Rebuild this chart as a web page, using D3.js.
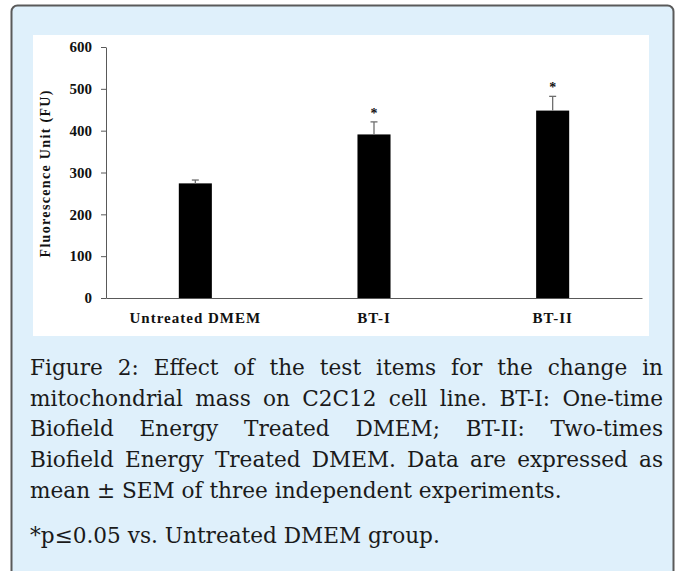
<!DOCTYPE html>
<html lang="en">
<head>
<meta charset="UTF-8">
<title>Mitochondrial mass</title>
<script src="https://cdn.jsdelivr.net/npm/d3@7"></script>
<style>
  body { margin: 0; background: #fff; }
  svg { display: block; }
</style>
</head>
<body>
<svg width="675" height="571"></svg>
<script>
// data
const categories = ["Untreated DMEM", "BT-I", "BT-II"];
const means = [274, 391, 448];
const sem = [8, 30, 34];
const significant = [false, true, true];
const yTicks = [0, 100, 200, 300, 400, 500, 600];

const captionLines = [
  "Figure 2: Effect of the test items for the change in",
  "mitochondrial mass on C2C12 cell line. BT-I: One-time",
  "Biofield Energy Treated DMEM; BT-II: Two-times",
  "Biofield Energy Treated DMEM. Data are expressed as",
  "mean \u00b1 SEM of three independent experiments.",
  "*p\u22640.05 vs. Untreated DMEM group."
];
const justified = [true, true, true, true, false, false];

let svg = d3.select("svg");
const serif = "'Liberation Serif', 'Times New Roman', serif";
const capFont = "'DejaVu Serif', serif";

// panel box
svg.append("rect")
  .attr("x", 11.5).attr("y", 5.5)
  .attr("width", 662).attr("height", 620)
  .attr("rx", 6)
  .style("fill", "#dff0fb")
  .style("stroke", "#5a5a5a")
  .style("stroke-width", 2);

svg.append("rect")
  .attr("x", 33).attr("y", 35)
  .attr("width", 616).attr("height", 301)
  .style("fill", "#fff");

let x = d3.scaleBand().domain(categories).range([106, 642]).padding(0);
let y = d3.scaleLinear().domain([0, 600]).range([298, 47]);
let barW = x.bandwidth() * 0.185;

let data = categories.map((c, i) => ({cat: c, mean: means[i], sem: sem[i], sig: significant[i]}));

// bars
svg.append("g").selectAll("rect")
  .data(data).join("rect")
  .attr("x", d => x(d.cat) + x.bandwidth() / 2 - barW / 2)
  .attr("y", d => y(d.mean))
  .attr("width", barW)
  .attr("height", d => y(0) - y(d.mean))
  .style("fill", "#000");

// error bars (upper only)
let eb = svg.append("g").style("stroke", "#6e6e6e").style("stroke-width", 1.3);
eb.selectAll("line.v")
  .data(data).join("line").attr("class", "v")
  .attr("x1", d => x(d.cat) + x.bandwidth() / 2)
  .attr("x2", d => x(d.cat) + x.bandwidth() / 2)
  .attr("y1", d => y(d.mean))
  .attr("y2", d => y(d.mean + d.sem));
eb.selectAll("line.c")
  .data(data).join("line").attr("class", "c")
  .attr("x1", d => x(d.cat) + x.bandwidth() / 2 - 3.5)
  .attr("x2", d => x(d.cat) + x.bandwidth() / 2 + 3.5)
  .attr("y1", d => y(d.mean + d.sem))
  .attr("y2", d => y(d.mean + d.sem));

// significance stars
svg.append("g").selectAll("text")
  .data(data.filter(d => d.sig)).join("text")
  .attr("x", d => x(d.cat) + x.bandwidth() / 2)
  .attr("y", d => y(d.mean + d.sem) - 4)
  .attr("text-anchor", "middle")
  .style("font-family", serif)
  .style("font-weight", "bold")
  .style("font-size", "14px")
  .style("fill", "#111")
  .text("*");

// axes
let yAxis = svg.append("g")
  .attr("transform", "translate(106,0)")
  .call(d3.axisLeft(y).tickValues(yTicks).tickSize(5).tickSizeOuter(0).tickPadding(9));
let xAxis = svg.append("g")
  .attr("transform", "translate(0,298)")
  .call(d3.axisBottom(x).tickSize(0).tickSizeOuter(0).tickPadding(14));

[yAxis, xAxis].forEach(a => {
  a.attr("font-family", null);
  a.select(".domain").style("stroke", "#595959");
  a.selectAll(".tick line").style("stroke", "#595959");
  a.selectAll("text")
    .style("font-family", serif)
    .style("font-weight", "bold")
    .style("font-size", "15px")
    .style("fill", "#111");
});
xAxis.selectAll("text").style("letter-spacing", "1px");

svg.append("text")
  .attr("transform", "translate(50,174) rotate(-90)")
  .attr("text-anchor", "middle")
  .attr("textLength", 167)
  .attr("lengthAdjust", "spacing")
  .style("font-family", serif)
  .style("font-weight", "bold")
  .style("font-size", "14px")
  .style("fill", "#111")
  .text("Fluorescence Unit (FU)");

// caption, justified lines
const capLeft = 30, capWidth = 633, firstBase = 375, lineGap = 30.7;
const capSize = 22;
let probe = svg.append("text")
  .style("font-family", capFont).style("font-size", capSize + "px")
  .text(captionLines[4]);
let sx = 532 / probe.node().getComputedTextLength();
probe.remove();

captionLines.forEach((line, i) => {
  let base = i < 5 ? firstBase + i * lineGap : 543;
  let g = svg.append("g").attr("transform", `translate(${capLeft},${base}) scale(${sx},1)`);
  let t = g.append("text")
    .style("font-family", capFont)
    .style("font-size", capSize + "px")
    .style("fill", "#1a1a1a")
    .text(line);
  if (justified[i]) {
    let natural = t.node().getComputedTextLength();
    let spaces = line.split(" ").length - 1;
    t.style("word-spacing", ((capWidth / sx - natural) / spaces) + "px");
  }
});
</script>
</body>
</html>
